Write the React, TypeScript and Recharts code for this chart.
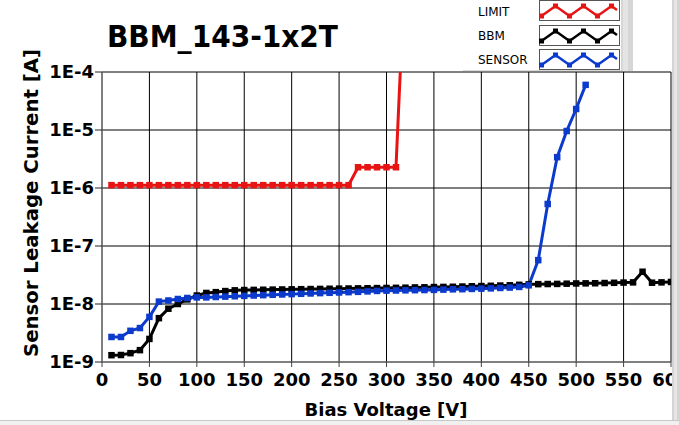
import React from "react";
import { LineChart, Line, XAxis, YAxis, CartesianGrid } from "recharts";

const chartTitle = "BBM_143-1x2T";
const xAxisTitle = "Bias Voltage [V]";
const yAxisTitle = "Sensor Leakage Current [A]";
const seriesNames = ["LIMIT", "BBM", "SENSOR"];
const seriesColors = ["#e81414", "#000000", "#0b3acc"];

const xTicks = [0, 50, 100, 150, 200, 250, 300, 350, 400, 450, 500, 550, 600];
const yTicks = [1e-9, 1e-8, 1e-7, 1e-6, 1e-5, 1e-4];
const yTickLabels = ["1E-9", "1E-8", "1E-7", "1E-6", "1E-5", "1E-4"];

const voltages = [
  10, 20, 30, 40, 50, 60, 70, 80, 90, 100,
  110, 120, 130, 140, 150, 160, 170, 180, 190, 200,
  210, 220, 230, 240, 250, 260, 270, 280, 290, 300,
  310, 320, 330, 340, 350, 360, 370, 380, 390, 400,
  410, 420, 430, 440, 450, 460, 470, 480, 490, 500,
  510, 520, 530, 540, 550, 560, 570, 580, 590, 600,
];

const limitValues = [
  1.12e-6, 1.12e-6, 1.12e-6, 1.12e-6, 1.12e-6, 1.12e-6, 1.12e-6, 1.12e-6, 1.12e-6, 1.12e-6,
  1.12e-6, 1.12e-6, 1.12e-6, 1.12e-6, 1.12e-6, 1.12e-6, 1.12e-6, 1.12e-6, 1.12e-6, 1.12e-6,
  1.12e-6, 1.12e-6, 1.12e-6, 1.12e-6, 1.12e-6, 1.12e-6, 2.28e-6, 2.28e-6, 2.28e-6, 2.28e-6,
  2.28e-6, 1e-2,
];

const bbmValues = [
  1.31e-9, 1.32e-9, 1.42e-9, 1.6e-9, 2.5e-9, 5.7e-9, 8.3e-9, 1.0e-8, 1.2e-8, 1.4e-8,
  1.55e-8, 1.6e-8, 1.67e-8, 1.72e-8, 1.74e-8, 1.75e-8, 1.76e-8, 1.77e-8, 1.78e-8, 1.79e-8,
  1.8e-8, 1.81e-8, 1.82e-8, 1.83e-8, 1.84e-8, 1.85e-8, 1.86e-8, 1.87e-8, 1.88e-8, 1.89e-8,
  1.9e-8, 1.91e-8, 1.93e-8, 1.94e-8, 1.96e-8, 1.97e-8, 1.98e-8, 2.0e-8, 2.02e-8, 2.04e-8,
  2.06e-8, 2.08e-8, 2.1e-8, 2.14e-8, 2.18e-8, 2.2e-8, 2.21e-8, 2.22e-8, 2.24e-8, 2.26e-8,
  2.27e-8, 2.28e-8, 2.3e-8, 2.32e-8, 2.34e-8, 2.36e-8, 3.6e-8, 2.33e-8, 2.36e-8, 2.4e-8,
];

const sensorValues = [
  2.7e-9, 2.7e-9, 3.45e-9, 3.85e-9, 6.0e-9, 1.1e-8, 1.15e-8, 1.22e-8, 1.27e-8, 1.3e-8,
  1.3e-8, 1.32e-8, 1.34e-8, 1.36e-8, 1.38e-8, 1.4e-8, 1.42e-8, 1.44e-8, 1.46e-8, 1.48e-8,
  1.5e-8, 1.52e-8, 1.54e-8, 1.56e-8, 1.58e-8, 1.6e-8, 1.62e-8, 1.65e-8, 1.68e-8, 1.7e-8,
  1.71e-8, 1.72e-8, 1.73e-8, 1.74e-8, 1.75e-8, 1.77e-8, 1.79e-8, 1.8e-8, 1.82e-8, 1.84e-8,
  1.86e-8, 1.89e-8, 1.92e-8, 1.97e-8, 2.1e-8, 5.7e-8, 5.3e-7, 3.4e-6, 9.6e-6, 2.3e-5,
  6.0e-5,
];

const tableData = voltages.map((v, i) => ({
  v,
  limit: limitValues[i],
  bbm: bbmValues[i],
  sensor: sensorValues[i],
}));

const FONT = "'DejaVu Sans', Verdana, sans-serif";

const squareDot = (color: string) => (props: any) => {
  const { cx, cy, index } = props;
  if (cx == null || cy == null || isNaN(cx) || isNaN(cy)) {
    return <g key={`e-${index}`} />;
  }
  return <rect key={`d-${index}`} x={cx - 3.25} y={cy - 3.25} width={6.5} height={6.5} fill={color} />;
};

const LegendSample = ({ y, color }: { y: number; color: string }) => {
  const xs = [541.5, 555.5, 569.5, 583.5, 597.5, 611.5, 617];
  const hi = y + 5;
  const lo = y + 15;
  const ys = [lo, hi, lo, hi, lo, hi, hi + 4];
  const pts = xs.map((x, i) => `${x},${ys[i]}`).join(" ");
  return (
    <g>
      <rect x={539.5} y={y - 0.5} width={80} height={20} fill="#fff" stroke="#555" strokeWidth={1} />
      <polyline points={pts} fill="none" stroke={color} strokeWidth={2.5} />
      {xs.slice(0, 6).map((x, i) => (
        <rect key={i} x={x - 2.5} y={ys[i] - 2.5} width={5} height={5} fill={color} />
      ))}
    </g>
  );
};

export default function App() {
  return (
    <div style={{ position: "absolute", left: 0, top: 0, width: 679, height: 425, background: "#fff" }}>
      <LineChart
        width={679}
        height={425}
        data={tableData}
        margin={{ top: 72, right: 8, left: 0, bottom: 0 }}
      >
        <CartesianGrid stroke="#000" strokeWidth={1} />
        <XAxis
          dataKey="v"
          type="number"
          domain={[0, 600]}
          ticks={xTicks}
          interval={0}
          height={63}
          axisLine={{ stroke: "#808080" }}
          tickLine={{ stroke: "#444" }}
          tickSize={5}
          tickMargin={6}
          tick={{ fontFamily: FONT, fontSize: 18, fontWeight: 700, fill: "#000" }}
          allowDataOverflow
        />
        <YAxis
          type="number"
          scale="log"
          domain={[1e-9, 1e-4]}
          ticks={yTicks}
          interval={0}
          width={102}
          allowDataOverflow
          axisLine={{ stroke: "#808080" }}
          tickLine={{ stroke: "#222" }}
          tickSize={7}
          tickMargin={1}
          tickFormatter={(val: number) => yTickLabels[yTicks.findIndex((t) => Math.abs(Math.log10(t) - Math.log10(val)) < 0.01)] ?? ""}
          tick={{ fontFamily: FONT, fontSize: 18, fontWeight: 700, fill: "#000" }}
        />
        <Line
          dataKey="limit"
          name={seriesNames[0]}
          stroke={seriesColors[0]}
          strokeWidth={3}
          dot={squareDot(seriesColors[0])}
          activeDot={false}
          isAnimationActive={false}
        />
        <Line
          dataKey="bbm"
          name={seriesNames[1]}
          stroke={seriesColors[1]}
          strokeWidth={3}
          dot={squareDot(seriesColors[1])}
          activeDot={false}
          isAnimationActive={false}
        />
        <Line
          dataKey="sensor"
          name={seriesNames[2]}
          stroke={seriesColors[2]}
          strokeWidth={3}
          dot={squareDot(seriesColors[2])}
          activeDot={false}
          isAnimationActive={false}
        />
      </LineChart>
      <svg
        width={679}
        height={425}
        style={{ position: "absolute", left: 0, top: 0, pointerEvents: "none" }}
      >
        <text
          x={107}
          y={47}
          fontFamily={FONT}
          fontSize={30}
          fontWeight={700}
          fill="#000"
          textLength={231}
          lengthAdjust="spacingAndGlyphs"
        >
          {chartTitle}
        </text>
        <text
          x={386}
          y={416}
          textAnchor="middle"
          fontFamily={FONT}
          fontSize={18}
          fontWeight={700}
          fill="#000"
        >
          {xAxisTitle}
        </text>
        <text
          x={0}
          y={0}
          transform="translate(38,203) rotate(-90)"
          textAnchor="middle"
          fontFamily={FONT}
          fontSize={19}
          fontWeight={700}
          fill="#000"
          textLength={308}
          lengthAdjust="spacingAndGlyphs"
        >
          {yAxisTitle}
        </text>
        {/* legend */}
        <rect x={463} y={0} width={158} height={70} fill="#fff" />
        <line x1={463} y1={70.5} x2={633} y2={70.5} stroke="#d8d8d8" strokeWidth={1} />
        <rect x={621} y={0} width={12} height={71} fill="#d6d6d6" />
        <rect x={623} y={0} width={5} height={71} fill="#e4e4e4" />
        {seriesNames.map((name, i) => (
          <text
            key={name}
            x={478}
            y={[16, 40, 64][i]}
            fontFamily={FONT}
            fontSize={12}
            fill="#000"
          >
            {name}
          </text>
        ))}
        <LegendSample y={1} color={seriesColors[0]} />
        <LegendSample y={26} color={seriesColors[1]} />
        <LegendSample y={50} color={seriesColors[2]} />
        {/* right frame bar and bottom edge */}
        <rect x={672} y={0} width={7} height={421} fill="#d4d4d4" />
        <rect x={674} y={0} width={3} height={421} fill="#e6e6e6" />
        <line x1={0} y1={420.5} x2={679} y2={420.5} stroke="#c8c8c8" strokeWidth={1} />
        <rect x={0} y={421} width={679} height={4} fill="#f0f0f0" />
      </svg>
    </div>
  );
}
